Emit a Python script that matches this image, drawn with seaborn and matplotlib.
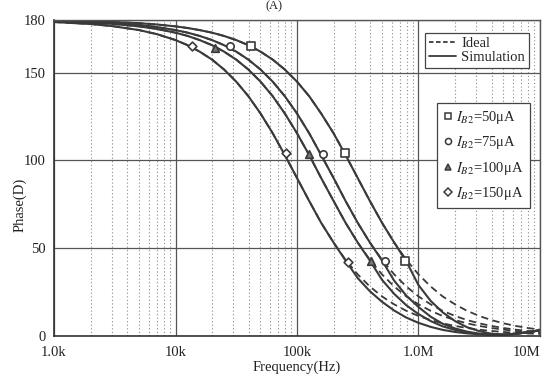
import matplotlib
matplotlib.use("Agg")
import matplotlib.pyplot as plt
import seaborn as sns
import numpy as np
import pandas as pd
from matplotlib.lines import Line2D
from matplotlib.ticker import FixedLocator, FixedFormatter, NullFormatter

# ---------------- data ----------------
freq = [1e3, 2e3, 3e3, 5e3, 7e3,
        1.0e4, 1.26e4, 1.58e4, 2.0e4, 2.51e4, 3.16e4, 3.98e4, 5.01e4, 6.31e4, 7.94e4,
        1.0e5, 1.26e5, 1.58e5, 2.0e5, 2.51e5, 3.16e5, 3.98e5, 5.01e5, 6.31e5, 7.94e5,
        1.0e6, 1.26e6, 1.58e6, 2.0e6, 2.51e6, 3.16e6, 3.98e6, 5.01e6, 6.31e6, 7.94e6,
        1.0e7]

ideal_50 = [179.64, 179.27, 178.91, 178.19, 177.46,
            176.38, 175.44, 174.26, 172.78, 170.92, 168.58, 165.65, 161.99, 157.44, 151.80,
            144.90, 136.60, 126.76, 115.50, 103.08, 90.00, 76.92, 64.50, 53.24, 43.40,
            35.10, 28.20, 22.56, 18.02, 14.35, 11.42, 9.08, 7.22, 5.74, 4.56, 3.62]
ideal_75 = [179.43, 178.85, 178.28, 177.14, 175.99,
            174.26, 172.78, 170.92, 168.58, 165.65, 161.99, 157.44, 151.80, 144.90, 136.60,
            126.76, 115.50, 103.08, 90.00, 76.92, 64.50, 53.24, 43.40, 35.10, 28.20,
            22.56, 18.02, 14.35, 11.42, 9.08, 7.22, 5.74, 4.56, 3.62, 2.88, 2.29]
ideal_100 = [179.27, 178.55, 177.82, 176.38, 174.93,
             172.78, 170.92, 168.58, 165.65, 161.99, 157.44, 151.80, 144.90, 136.60, 126.76,
             115.50, 103.08, 90.00, 76.92, 64.50, 53.24, 43.40, 35.10, 28.20, 22.56,
             18.02, 14.35, 11.42, 9.08, 7.22, 5.74, 4.56, 3.62, 2.88, 2.29, 1.82]
ideal_150 = [178.85, 177.71, 176.56, 174.28, 171.99,
             168.58, 165.65, 161.99, 157.44, 151.80, 144.90, 136.60, 126.76, 115.50, 103.08,
             90.00, 76.92, 64.50, 53.24, 43.40, 35.10, 28.20, 22.56, 18.02, 14.35,
             11.42, 9.08, 7.22, 5.74, 4.56, 3.62, 2.88, 2.29, 1.82, 1.44, 1.15]

sim_50 = [179.64, 179.27, 178.91, 178.19, 177.46,
          176.38, 175.44, 174.26, 172.78, 170.92, 168.58, 165.65, 161.99, 157.44, 151.80,
          144.90, 136.60, 126.76, 115.50, 103.08, 90.00, 76.92, 64.50, 53.24, 42.5,
          29.0, 20.0, 13.5, 8.5, 5.0, 2.8, 1.3, 0.8, 1.2, 2.2, 3.4]
sim_75 = [179.43, 178.85, 178.28, 177.14, 175.99,
          174.26, 172.78, 170.92, 168.58, 165.65, 161.99, 157.44, 151.80, 144.90, 136.60,
          126.76, 115.50, 103.08, 90.00, 76.92, 64.50, 53.24, 43.0, 31.5, 23.0,
          16.5, 11.0, 7.0, 4.3, 2.5, 1.3, 0.7, 0.7, 1.2, 2.1, 3.3]
sim_100 = [179.27, 178.55, 177.82, 176.38, 174.93,
           172.78, 170.92, 168.58, 165.65, 161.99, 157.44, 151.80, 144.90, 136.60, 126.76,
           115.50, 103.08, 90.00, 76.92, 64.50, 53.24, 43.0, 32.0, 24.0, 17.5,
           12.5, 8.5, 5.5, 3.5, 2.0, 1.2, 0.7, 0.8, 1.3, 2.2, 3.3]
sim_150 = [178.85, 177.71, 176.56, 174.28, 171.99,
           168.58, 165.65, 161.99, 157.44, 151.80, 144.90, 136.60, 126.76, 115.50, 103.08,
           90.00, 76.92, 64.50, 53.24, 43.0, 33.0, 25.5, 19.5, 14.5, 10.5,
           7.5, 5.2, 3.5, 2.3, 1.5, 1.0, 0.7, 0.8, 1.3, 2.2, 3.2]

mk_f_50 = [41.8e3, 248e3, 774e3];    mk_p_50 = [165, 104, 43]
mk_f_75 = [28.1e3, 164e3, 530e3];    mk_p_75 = [165, 103.5, 43]
mk_f_100 = [21.1e3, 125.6e3, 405e3]; mk_p_100 = [164, 103.5, 43]
mk_f_150 = [13.7e3, 81e3, 264e3];    mk_p_150 = [165, 104, 42]

labels = [r'$I_{B2}$=50μA', r'$I_{B2}$=75μA', r'$I_{B2}$=100μA', r'$I_{B2}$=150μA']
x_ticks = [1e3, 1e4, 1e5, 1e6, 1e7]
x_ticklabels = ['1.0k', '10k', '100k', '1.0M', '10M']
y_ticks = [0, 50, 100, 150, 180]

# ---------------- style ----------------
sns.set_theme(style="white")
plt.rcParams['font.family'] = ['Liberation Serif', 'DejaVu Serif']
plt.rcParams['mathtext.fontset'] = 'stix'

line_c = '#3a3a3a'
grid_c = '#555555'
fs = 10.5

fig, ax = plt.subplots(figsize=(5.44, 3.82), dpi=100)
fig.subplots_adjust(left=0.0993, right=0.9926, top=0.9476, bottom=0.1204)

ideals = [ideal_50, ideal_75, ideal_100, ideal_150]
sims = [sim_50, sim_75, sim_100, sim_150]
mkf = [mk_f_50, mk_f_75, mk_f_100, mk_f_150]
mkp = [mk_p_50, mk_p_75, mk_p_100, mk_p_150]
markers = ['s', 'o', '^', 'D']
mfaces = ['white', 'white', '#777777', 'white']
msizes = [26, 28, 30, 20]

ax.set_xscale('log')
for idl, sm in zip(ideals, sims):
    sns.lineplot(x=freq, y=idl, ax=ax, color=line_c, linestyle=(0, (4, 2.5)),
                 linewidth=1.3, estimator=None, sort=False, legend=False, zorder=2)
    sns.lineplot(x=freq, y=sm, ax=ax, color=line_c, linestyle='-',
                 linewidth=1.5, estimator=None, sort=False, legend=False, zorder=2)
for f, p, m, fc, s in zip(mkf, mkp, markers, mfaces, msizes):
    sns.scatterplot(x=f, y=p, ax=ax, marker=m, s=s, facecolor=fc, edgecolor=line_c,
                    linewidth=1.2, legend=False, zorder=3)

ax.set_xlim(1e3, 1e7)
ax.set_ylim(0, 180)

ax.xaxis.set_major_locator(FixedLocator(x_ticks))
ax.xaxis.set_major_formatter(FixedFormatter(x_ticklabels))
minor = [m * 10 ** d for d in range(3, 7) for m in range(2, 10)]
ax.xaxis.set_minor_locator(FixedLocator(minor))
ax.xaxis.set_minor_formatter(NullFormatter())
ax.set_yticks(y_ticks)

ax.grid(True, which='major', color=grid_c, linewidth=0.9, linestyle='-')
ax.grid(True, which='minor', axis='x', color='#8a8a8a', linewidth=0.8, linestyle=(0, (1, 2.2)))
ax.set_axisbelow(True)

ax.tick_params(axis='both', which='major', direction='out', length=4, width=1,
               color='#333333', labelsize=fs, pad=2, labelcolor='#222222')
ax.tick_params(axis='x', which='minor', length=0)
ax.tick_params(axis='x', which='major', pad=3)

for side in ['left', 'bottom']:
    ax.spines[side].set_color('#333333')
    ax.spines[side].set_linewidth(1.2)
for side in ['top', 'right']:
    ax.spines[side].set_color(grid_c)
    ax.spines[side].set_linewidth(1.0)

ax.set_xlabel('Frequency(Hz)', fontsize=fs, color='#222222', labelpad=1)
ax.set_ylabel('Phase(D)', fontsize=fs, color='#222222')
ax.yaxis.set_label_coords(-0.057, 0.415)

# legend 1: line styles
h1 = [Line2D([], [], color=line_c, linestyle=(0, (2.5, 1.4)), linewidth=1.3),
      Line2D([], [], color=line_c, linestyle='-', linewidth=1.3)]
leg1 = ax.legend(h1, ['Ideal', 'Simulation'], loc='upper right',
                 bbox_to_anchor=(0.977, 0.959), fontsize=fs, frameon=True,
                 fancybox=False, edgecolor='#444444', framealpha=1,
                 handlelength=1.9, handletextpad=0.35, labelspacing=0.08,
                 borderpad=0.25, borderaxespad=0)
leg1.get_frame().set_linewidth(0.9)
ax.add_artist(leg1)

h2 = [Line2D([], [], linestyle='none', marker=m, markerfacecolor=fc,
             markeredgecolor=line_c, markersize=4.4, markeredgewidth=1.1)
      for m, fc in zip(markers, mfaces)]
leg2 = ax.legend(h2, labels, loc='upper right', bbox_to_anchor=(0.979, 0.737),
                 fontsize=fs, frameon=True, fancybox=False, edgecolor='#444444',
                 framealpha=1, handlelength=0.6, handletextpad=0.3,
                 labelspacing=0.58, borderpad=0.4, borderaxespad=0)
leg2.get_frame().set_linewidth(0.9)

fig.canvas.draw()
xt = ax.get_xticklabels()
xt[-1].set_horizontalalignment('right')
xt[-1].set_x(1e7)

fig.text(0.504, 0.999, '(A)', ha='center', va='top', fontsize=9, color='#222222')

fig.savefig('out.png', dpi=100)
